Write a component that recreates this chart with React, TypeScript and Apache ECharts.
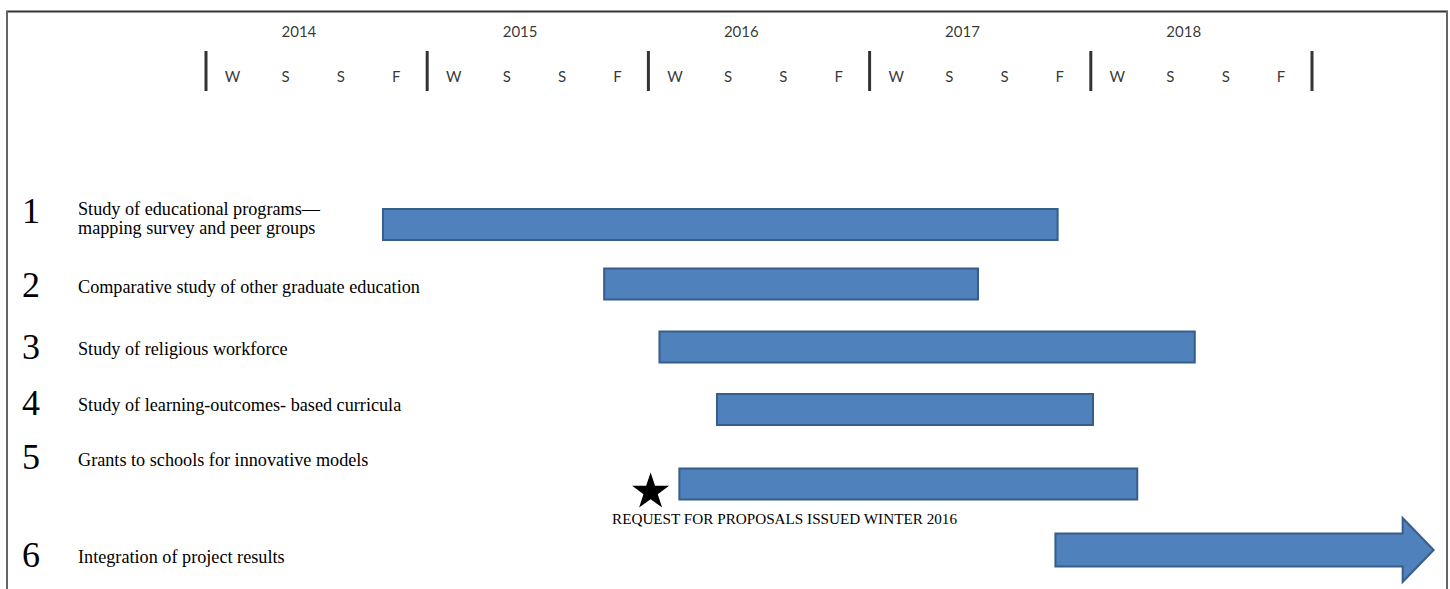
import React, { useEffect, useRef } from "react";
import * as echarts from "echarts";

// ---- data ----
const years = ["2014", "2015", "2016", "2017", "2018"];
const yearStarts = [2014, 2015, 2016, 2017, 2018];
const yearBounds = [2014, 2015, 2016, 2017, 2018, 2019];
const seasons = ["W", "S", "S", "F"];
const taskNumbers = ["1", "2", "3", "4", "5", "6"];
const taskLabels = [
  ["Study of educational programs—", "mapping survey and peer groups"],
  ["Comparative study of other graduate education"],
  ["Study of religious workforce"],
  ["Study of learning-outcomes- based curricula"],
  ["Grants to schools for innovative models"],
  ["Integration of project results"],
];
const taskStart = [2014.8, 2015.8, 2016.05, 2016.31, 2016.14, 2017.84];
const taskEnd = [2017.85, 2017.49, 2018.47, 2018.01, 2018.21, 2019.55];
const taskOngoing = [false, false, false, false, false, true];
const milestoneDate = 2016.01;
const milestoneLabel = "REQUEST FOR PROPOSALS ISSUED WINTER 2016";

// ---- layout (not data) ----
const W = 1450;
const H = 589;
const ROW_Y = [224.5, 284, 347, 409.5, 484, 550];
const NUM_Y = [211, 285, 347, 403, 457, 555];
const LABEL_Y = [[209, 228], [287], [349], [405], [460], [557]];
const SEASON_OFFSETS = [0.12, 0.36, 0.61, 0.86];
const YEAR_LABEL_OFFSET = 0.42;
const YEAR_Y = 31;
const SEASON_Y = 76;
const DIVIDER_Y = 71;
const MILESTONE_Y = 490;
const BAR_H = 31;
const FILL = "#4F81BD";
const STROKE = "#385D8A";
const HEADER_FONT = "Lato";
const SERIF = '"Liberation Serif", "Times New Roman", serif';

export default function App() {
  const ref = useRef<HTMLDivElement>(null);

  useEffect(() => {
    if (!ref.current) return;
    const chart = echarts.init(ref.current, undefined, { renderer: "svg" });

    const yearLabelData = years.map((y, i) => [yearStarts[i] + YEAR_LABEL_OFFSET, YEAR_Y, y]);
    const seasonData: any[] = [];
    yearStarts.forEach((ys) => {
      seasons.forEach((s, k) => seasonData.push([ys + SEASON_OFFSETS[k], SEASON_Y, s]));
    });
    const dividerData = yearBounds.map((b) => [b, DIVIDER_Y]);
    const taskData = taskStart.map((s, i) => [s, taskEnd[i], ROW_Y[i], taskOngoing[i] ? 1 : 0]);

    const graphics: any[] = [
      { type: "line", shape: { x1: 6, y1: 11.5, x2: 1448, y2: 11.5 }, style: { stroke: "#333", lineWidth: 2 } },
      { type: "line", shape: { x1: 7, y1: 11, x2: 7, y2: H }, style: { stroke: "#666", lineWidth: 2 } },
      { type: "line", shape: { x1: 1447, y1: 11, x2: 1447, y2: H }, style: { stroke: "#666", lineWidth: 2 } },
    ];
    taskNumbers.forEach((n, i) => {
      graphics.push({
        type: "text",
        x: 31,
        y: NUM_Y[i],
        style: { text: n, fontFamily: SERIF, fontSize: 36, fill: "#000", align: "center", verticalAlign: "middle" },
      });
      taskLabels[i].forEach((line, j) => {
        graphics.push({
          type: "text",
          x: 78,
          y: LABEL_Y[i][j],
          style: { text: line, fontFamily: SERIF, fontSize: 18.2, fill: "#000", align: "left", verticalAlign: "middle" },
        });
      });
    });
    graphics.push({
      type: "text",
      x: 612,
      y: 518,
      style: { text: milestoneLabel, fontFamily: SERIF, fontSize: 15.2, fill: "#000", align: "left", verticalAlign: "middle" },
    });

    const starPath =
      "path://M50,0 L61.8,35.4 L98.9,35.4 L68.9,57.3 L80.4,92.7 L50,70.8 L19.6,92.7 L31.1,57.3 L1.1,35.4 L38.2,35.4 Z";

    chart.setOption({
      animation: false,
      grid: { left: 206, right: 138, top: 0, bottom: 0 },
      xAxis: { type: "value", min: 2014, max: 2019, show: false },
      yAxis: { type: "value", min: 0, max: H, inverse: true, show: false },
      graphic: graphics,
      series: [
        {
          type: "scatter",
          data: yearLabelData,
          symbolSize: 1,
          itemStyle: { color: "transparent" },
          label: {
            show: true,
            position: "inside",
            formatter: (p: any) => p.data[2],
            fontFamily: HEADER_FONT,
            fontSize: 15,
            color: "#000",
          },
          silent: true,
        },
        {
          type: "scatter",
          data: seasonData,
          symbolSize: 1,
          itemStyle: { color: "transparent" },
          label: {
            show: true,
            position: "inside",
            formatter: (p: any) => p.data[2],
            fontFamily: HEADER_FONT,
            fontSize: 15,
            color: "#000",
          },
          silent: true,
        },
        {
          type: "scatter",
          data: dividerData,
          symbol: "rect",
          symbolSize: [3, 40],
          itemStyle: { color: "#000" },
          silent: true,
        },
        {
          type: "custom",
          clip: false,
          silent: true,
          data: taskData,
          renderItem: (params: any, api: any) => {
            const s = api.value(0);
            const e = api.value(1);
            const r = api.value(2);
            const arrow = api.value(3);
            const p0 = api.coord([s, r]);
            const p1 = api.coord([e, r]);
            const style = { fill: FILL, stroke: STROKE, lineWidth: 2 };
            if (!arrow) {
              return {
                type: "rect",
                shape: { x: p0[0], y: p0[1] - BAR_H / 2, width: p1[0] - p0[0], height: BAR_H },
                style,
              };
            }
            const head = 31;
            const bh = 16.5;
            const hh = 32;
            const cy = p0[1];
            const xb = p1[0] - head;
            return {
              type: "polygon",
              shape: {
                points: [
                  [p0[0], cy - bh],
                  [xb, cy - bh],
                  [xb, cy - hh],
                  [p1[0], cy],
                  [xb, cy + hh],
                  [xb, cy + bh],
                  [p0[0], cy + bh],
                ],
              },
              style,
            };
          },
        },
        {
          type: "scatter",
          data: [[milestoneDate, MILESTONE_Y]],
          symbol: starPath,
          symbolSize: [37, 35],
          itemStyle: { color: "#000", opacity: 1 },
          silent: true,
        },
      ],
    });

    return () => chart.dispose();
  }, []);

  return (
    <div
      ref={ref}
      style={{ position: "fixed", left: 0, top: 0, width: W, height: H, background: "#fff" }}
    />
  );
}
